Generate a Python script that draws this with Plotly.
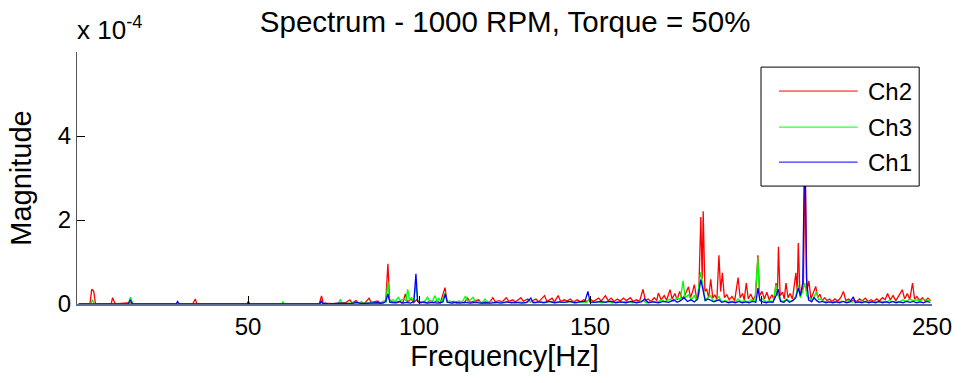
import plotly.graph_objects as go

# Magnitudes are in units of 1e-4 (the axis carries the "x 10^-4" multiplier)
ch2_freq = [0.5, 3.8, 4.3, 4.9, 5.4, 10.0, 10.4, 11.2, 15.5, 16.2, 33.8, 34.6, 35.0, 49.8, 50.2, 50.6,
            70.8, 71.5, 72.0, 75.0, 78.5, 79.8, 80.4, 81.6, 82.3, 83.2, 84.0, 85.4, 86.0, 88.0, 88.6, 89.5,
            90.3, 90.9, 91.4, 92.2, 93.5, 94.5, 95.3, 96.0, 96.6, 97.7, 98.4, 99.3, 100.0, 101.0, 102.0,
            103.4, 104.2, 105.3, 106.2, 107.6, 108.2, 109.0, 110.2, 111.0, 112.3, 113.2, 114.2, 115.0,
            116.0, 117.4, 118.2, 119.5, 120.6, 121.6, 122.3, 123.4, 124.3, 125.5, 126.3, 127.3, 128.2,
            129.8, 130.5, 131.8, 132.6, 133.5, 134.2, 135.0, 136.7, 137.4, 138.9, 139.6, 140.7, 141.4,
            142.5, 143.3, 144.2, 145.2, 146.3, 147.2, 148.2, 149.0, 150.1, 151.0, 152.5, 153.3, 154.5,
            155.3, 156.2, 157.0, 158.0, 158.8, 159.8, 160.6, 161.8, 162.6, 163.5, 164.5, 165.5, 166.2,
            167.0, 167.8, 168.8, 169.5, 170.0, 170.8, 171.7, 172.4, 173.4, 174.0, 174.8, 175.5, 176.2,
            177.0, 177.8, 178.8, 179.4, 180.0, 180.5, 181.2, 181.8, 182.4, 182.8, 183.1, 183.6, 184.1,
            184.7, 185.3, 185.9, 186.5, 187.1, 187.7, 188.2, 188.7, 189.3, 190.0, 190.7, 191.5, 192.3,
            193.3, 193.9, 194.6, 195.1, 195.7, 196.3, 197.0, 197.7, 198.4, 199.1, 199.6, 200.3, 201.0,
            201.7, 202.4, 203.2, 203.8, 204.4, 204.8, 205.1, 205.6, 206.3, 206.8, 207.3, 207.9, 208.5,
            209.2, 210.2, 210.6, 210.9, 211.4, 212.0, 212.4, 212.9, 213.4, 214.0, 214.6, 215.3, 216.0,
            216.6, 217.2, 217.9, 218.6, 219.3, 220.0, 220.8, 221.6, 222.4, 223.3, 224.1, 224.8, 225.6,
            226.4, 227.2, 228.0, 228.8, 229.6, 230.5, 231.3, 232.2, 233.0, 233.8, 234.6, 235.5, 236.3,
            237.0, 237.8, 238.6, 239.4, 240.2, 241.3, 242.0, 242.8, 243.5, 244.3, 244.9, 245.6, 246.4,
            247.2, 248.0, 248.8, 249.6]
ch2_mag = [0.0, 0.01, 0.35, 0.30, 0.0, 0.0, 0.15, 0.0, 0.03, 0.0, 0.0, 0.12, 0.01, 0.0, 0.02, 0.0,
           0.0, 0.19, 0.02, 0.01, 0.03, 0.10, 0.02, 0.08, 0.02, 0.05, 0.01, 0.14, 0.04, 0.07, 0.01, 0.05,
           0.08, 0.96, 0.10, 0.05, 0.03, 0.06, 0.03, 0.24, 0.05, 0.12, 0.03, 0.10, 0.03, 0.05, 0.02,
           0.07, 0.03, 0.08, 0.02, 0.39, 0.06, 0.04, 0.06, 0.02, 0.05, 0.03, 0.14, 0.04,
           0.06, 0.10, 0.03, 0.05, 0.04, 0.15, 0.05, 0.08, 0.05, 0.15, 0.06, 0.10, 0.05,
           0.15, 0.07, 0.12, 0.05, 0.08, 0.12, 0.05, 0.20, 0.06, 0.14, 0.05, 0.20, 0.06,
           0.10, 0.07, 0.12, 0.05, 0.10, 0.05, 0.10, 0.06, 0.12, 0.06, 0.14, 0.07, 0.20,
           0.08, 0.14, 0.06, 0.12, 0.07, 0.14, 0.08, 0.15, 0.06, 0.10, 0.07, 0.35, 0.08,
           0.12, 0.06, 0.15, 0.08, 0.26, 0.10, 0.20, 0.09, 0.34, 0.12, 0.25, 0.10, 0.30,
           0.12, 0.22, 0.41, 0.15, 0.30, 0.46, 0.12, 0.25, 2.07, 0.60, 2.21, 0.30, 0.36,
           0.15, 0.59, 0.14, 0.22, 0.10, 1.16, 0.30, 0.74, 0.15, 0.22, 0.10, 0.18, 0.08,
           0.63, 0.15, 0.25, 0.10, 0.50, 0.12, 0.24, 0.10, 0.20, 1.16, 0.20, 0.30, 0.12,
           0.28, 0.10, 0.22, 0.10, 0.50, 0.20, 1.36, 0.20, 0.28, 0.12, 0.50, 0.15, 0.25,
           0.12, 0.74, 0.30, 1.45, 0.20, 0.30, 0.50, 3.60, 0.30, 0.55, 0.12, 0.25, 0.42,
           0.15, 0.23, 0.08, 0.15, 0.08, 0.12, 0.06, 0.12, 0.07, 0.15, 0.30, 0.08, 0.12,
           0.06, 0.10, 0.06, 0.12, 0.07, 0.14, 0.06, 0.10, 0.06, 0.12, 0.07, 0.15, 0.10,
           0.25, 0.10, 0.20, 0.08, 0.18, 0.34, 0.12, 0.25, 0.10, 0.50, 0.12, 0.18, 0.08,
           0.15, 0.07, 0.14, 0.08]

ch3_freq = [0.5, 4.0, 4.5, 5.0, 15.0, 15.6, 16.4, 29.0, 29.4, 29.8, 49.7, 50.1, 50.5, 59.8, 60.2, 60.6,
            71.0, 71.5, 72.0, 76.2, 77.0, 77.6, 80.0, 82.0, 84.0, 86.0, 87.5, 89.0, 89.7, 90.4, 90.9,
            91.4, 92.3, 93.0, 93.9, 94.6, 95.5, 96.2, 96.7, 97.2, 97.8, 98.4, 99.1, 99.6, 100.5, 101.3,
            102.5, 103.2, 104.0, 104.7, 105.3, 105.8, 106.6, 107.6, 108.2, 109.0, 109.8, 110.8, 111.8,
            112.6, 113.6, 114.3, 115.8, 116.5, 117.5, 118.4, 119.3, 120.0, 121.0, 122.0, 123.5, 125.0,
            126.5, 128.0, 129.5, 131.0, 132.5, 134.0, 135.5, 137.0, 138.5, 140.0, 141.5, 143.0, 144.5,
            146.0, 147.5, 149.0, 149.6, 150.3, 152.0, 153.5, 155.0, 156.5, 158.0, 159.5, 161.0, 162.5,
            164.0, 165.5, 166.5, 168.0, 169.5, 171.0, 172.0, 173.4, 174.3, 175.5, 176.4, 177.2, 177.8,
            178.8, 179.6, 180.5, 181.2, 182.4, 183.0, 183.6, 184.4, 185.3, 186.0, 187.0, 187.7, 188.4,
            189.5, 190.5, 191.5, 192.5, 193.3, 194.2, 195.2, 196.2, 197.2, 198.2, 199.1, 199.6, 200.5,
            201.5, 202.5, 203.5, 204.4, 205.0, 205.6, 206.6, 207.5, 208.5, 209.5, 210.2, 210.9, 211.5,
            212.2, 212.8, 213.4, 214.2, 215.0, 216.2, 216.8, 217.6, 218.5, 219.5, 220.5, 221.5, 222.5,
            223.5, 224.5, 225.5, 226.5, 227.5, 228.5, 229.5, 230.5, 231.5, 232.5, 233.5, 234.5, 235.5,
            236.5, 237.5, 238.5, 239.5, 240.5, 241.5, 242.5, 243.5, 244.5, 245.5, 246.5, 247.5, 248.5,
            249.5]
ch3_mag = [0.0, 0.0, 0.10, 0.0, 0.0, 0.16, 0.0, 0.0, 0.03, 0.0, 0.0, 0.04, 0.0, 0.0, 0.06, 0.0,
           0.0, 0.05, 0.0, 0.0, 0.10, 0.01, 0.02, 0.03, 0.02, 0.03, 0.02, 0.04, 0.07, 0.05, 0.53,
           0.06, 0.10, 0.06, 0.16, 0.08, 0.12, 0.08, 0.35, 0.10, 0.15, 0.05, 0.50, 0.08, 0.05, 0.03,
           0.16, 0.05, 0.08, 0.20, 0.06, 0.13, 0.04, 0.27, 0.05, 0.07, 0.03, 0.05, 0.07,
           0.04, 0.19, 0.05, 0.16, 0.05, 0.06, 0.03, 0.12, 0.04, 0.06, 0.03, 0.05, 0.03,
           0.06, 0.03, 0.05, 0.03, 0.06, 0.03, 0.05, 0.04, 0.06, 0.03, 0.05, 0.04, 0.06,
           0.03, 0.05, 0.04, 0.10, 0.03, 0.05, 0.03, 0.06, 0.03, 0.05, 0.04, 0.06, 0.03,
           0.05, 0.08, 0.03, 0.06, 0.04, 0.10, 0.05, 0.12, 0.06, 0.15, 0.10, 0.55, 0.15,
           0.22, 0.10, 0.20, 0.08, 0.76, 0.45, 0.10, 0.15, 0.20, 0.06, 0.10, 0.18, 0.06,
           0.08, 0.05, 0.07, 0.05, 0.12, 0.05, 0.08, 0.05, 0.10, 0.06, 1.10, 0.10, 0.12,
           0.05, 0.08, 0.05, 0.45, 0.20, 0.10, 0.06, 0.12, 0.06, 0.10, 0.20, 0.45, 0.15,
           0.30, 0.50, 0.20, 0.15, 0.08, 0.30, 0.10, 0.12, 0.05, 0.07, 0.04, 0.06, 0.04,
           0.07, 0.05, 0.08, 0.04, 0.06, 0.04, 0.07, 0.04, 0.06, 0.05, 0.07, 0.04, 0.06,
           0.05, 0.08, 0.05, 0.07, 0.05, 0.10, 0.06, 0.12, 0.08, 0.10, 0.07, 0.12, 0.08,
           0.10]

ch1_freq = [0.5, 15.0, 15.6, 16.2, 29.0, 29.4, 29.9, 49.7, 50.1, 50.5, 71.0, 71.4, 71.9, 72.5, 73.5,
            77.0, 80.0, 82.0, 83.0, 85.0, 88.0, 89.5, 90.3, 90.9, 91.5, 93.0, 94.3, 95.0, 96.5, 97.5,
            98.5, 99.1, 99.6, 100.5, 101.5, 102.5, 104.0, 105.5, 107.0, 107.7, 108.3, 109.5, 110.8,
            112.0, 113.5, 115.0, 116.5, 118.0, 119.5, 121.0, 122.5, 124.0, 125.5, 127.0, 128.5, 130.0,
            131.5, 132.7, 133.4, 135.0, 136.5, 138.0, 139.5, 141.0, 142.5, 144.0, 145.5, 147.0, 148.5,
            149.4, 150.0, 151.5, 153.0, 154.5, 156.0, 157.5, 159.0, 160.5, 162.0, 163.5, 165.0, 166.0,
            167.0, 168.5, 170.0, 171.5, 173.0, 174.5, 175.5, 176.5, 177.5, 178.5, 179.5, 180.5, 181.5,
            182.4, 183.1, 183.7, 184.5, 185.3, 186.2, 187.7, 188.5, 189.5, 190.5, 191.5, 192.5, 193.5,
            194.5, 195.5, 196.5, 197.5, 198.5, 199.1, 199.7, 200.5, 201.5, 202.5, 203.5, 204.4, 205.1,
            205.7, 206.7, 207.5, 208.3, 209.3, 210.2, 210.9, 211.5, 212.2, 212.8, 213.3, 213.9, 214.8,
            215.5, 216.3, 217.0, 218.0, 219.0, 220.0, 221.0, 222.0, 223.0, 224.0, 225.0, 226.0, 227.0,
            227.6, 228.5, 229.5, 230.5, 231.5, 232.5, 233.5, 234.5, 235.5, 236.5, 237.5, 238.5, 239.5,
            240.5, 241.5, 242.5, 243.5, 244.5, 245.5, 246.5, 247.5, 248.5, 249.5]
ch1_mag = [0.0, 0.0, 0.10, 0.0, 0.0, 0.06, 0.0, 0.0, 0.06, 0.0, 0.0, 0.08, 0.0, 0.02, 0.0,
           0.02, 0.01, 0.04, 0.01, 0.02, 0.03, 0.02, 0.06, 0.24, 0.04, 0.03, 0.06, 0.02, 0.04, 0.02,
           0.05, 0.72, 0.06, 0.03, 0.05, 0.02, 0.04, 0.02, 0.05, 0.24, 0.04, 0.02, 0.04,
           0.02, 0.04, 0.02, 0.04, 0.02, 0.03, 0.02, 0.04, 0.02, 0.05, 0.03, 0.04, 0.02,
           0.04, 0.14, 0.03, 0.05, 0.03, 0.06, 0.03, 0.05, 0.04, 0.06, 0.03, 0.05, 0.06,
           0.30, 0.05, 0.04, 0.06, 0.04, 0.07, 0.03, 0.05, 0.03, 0.06, 0.03, 0.05, 0.12,
           0.03, 0.05, 0.03, 0.06, 0.04, 0.10, 0.04, 0.08, 0.15, 0.06, 0.10, 0.05, 0.12,
           0.58, 0.30, 0.08, 0.12, 0.08, 0.05, 0.10, 0.04, 0.06, 0.03, 0.05, 0.03, 0.06,
           0.03, 0.05, 0.03, 0.06, 0.04, 0.38, 0.08, 0.05, 0.03, 0.05, 0.04, 0.20, 0.35,
           0.06, 0.04, 0.10, 0.04, 0.08, 0.15, 0.38, 0.20, 0.50, 4.00, 0.60, 0.10, 0.05,
           0.15, 0.08, 0.04, 0.06, 0.03, 0.05, 0.03, 0.05, 0.03, 0.06, 0.03, 0.05, 0.17,
           0.03, 0.05, 0.03, 0.06, 0.03, 0.05, 0.03, 0.06, 0.03, 0.05, 0.03, 0.06, 0.03,
           0.05, 0.03, 0.06, 0.04, 0.06, 0.03, 0.05, 0.03, 0.06, 0.04]

series_names = ["Ch2", "Ch3", "Ch1"]
series_colors = ["#ff0000", "#00ff00", "#0000ff"]
x_ticks = [50, 100, 150, 200, 250]
y_ticks = [0, 2, 4, 6]
y_tick_text = ["0", "2", "4", ""]

FONT = "Liberation Sans, Arial, sans-serif"

fig = go.Figure()
for name, color, fx, my in zip(series_names, series_colors,
                               [ch2_freq, ch3_freq, ch1_freq],
                               [ch2_mag, ch3_mag, ch1_mag]):
    fig.add_trace(go.Scatter(x=fx, y=my, mode="lines", name=name,
                             line=dict(color=color, width=1.3), showlegend=False))

# legend drawn as a MATLAB-style box
lx0, lx1, ly0, ly1 = 0.8, 0.985, 0.468, 0.94
shapes = [dict(type="rect", xref="paper", yref="paper", x0=lx0, x1=lx1, y0=ly0, y1=ly1,
               line=dict(color="black", width=1), fillcolor="white", layer="above")]
annotations = []
rows = [0.845, 0.702, 0.563]
for name, color, yy in zip(series_names, series_colors, rows):
    shapes.append(dict(type="line", xref="paper", yref="paper", x0=0.821, x1=0.913, y0=yy, y1=yy,
                       line=dict(color=color, width=1), layer="above"))
    annotations.append(dict(xref="paper", yref="paper", x=0.923, y=yy, text=name, showarrow=False,
                            xanchor="left", yanchor="middle", font=dict(size=24, color="black", family=FONT)))

annotations.append(dict(xref="paper", yref="paper", x=-0.002, y=1.02, text="x 10<sup>-4</sup>",
                        showarrow=False, xanchor="left", yanchor="bottom",
                        font=dict(size=26, color="black", family=FONT)))

fig.update_layout(
    width=964, height=383,
    margin=dict(l=77, r=24, t=52, b=79),
    paper_bgcolor="white", plot_bgcolor="white",
    font=dict(family=FONT, size=24, color="black"),
    title=dict(text="Spectrum - 1000 RPM, Torque = 50%", x=0.524, xanchor="center",
               y=0.943, yanchor="middle", font=dict(size=29.5, family=FONT, color="black")),
    shapes=shapes, annotations=annotations,
    xaxis=dict(range=[0, 250], tickvals=x_ticks, ticks="inside", ticklen=8, tickcolor="black",
               showline=True, linecolor="#5f6d96", linewidth=2, showgrid=False, zeroline=False,
               title=dict(text="Frequency[Hz]", font=dict(size=29, family=FONT), standoff=4),
               tickfont=dict(size=24, family=FONT)),
    yaxis=dict(range=[0, 6], tickvals=y_ticks, ticktext=y_tick_text, ticks="inside", ticklen=8,
               tickcolor="black", showline=True, linecolor="#555555", linewidth=1, showgrid=False,
               zeroline=False, title=dict(text="Magnitude", font=dict(size=29, family=FONT), standoff=17),
               tickfont=dict(size=24, family=FONT)),
)

fig.write_html("out.html")
